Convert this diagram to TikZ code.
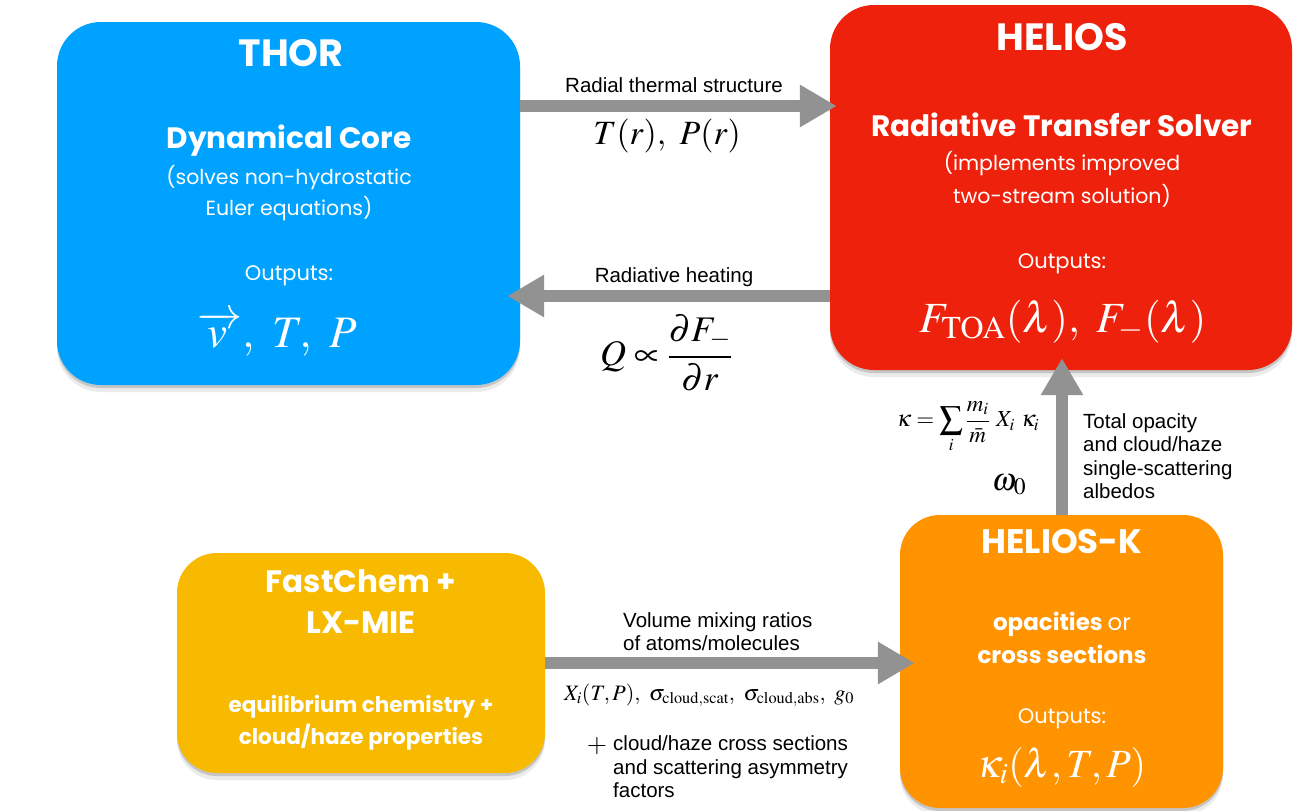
\documentclass[tikz,border=0pt]{standalone}
\usepackage{mathptmx}
\usepackage[no-math]{fontspec}
\setmainfont{Liberation Sans}
\newfontfamily\fut{Poppins}
\usetikzlibrary{arrows.meta,shadows}
\definecolor{thorblue}{RGB}{0,162,255}
\definecolor{heliosred}{RGB}{238,34,12}
\definecolor{korange}{RGB}{255,147,0}
\definecolor{fcyellow}{RGB}{248,186,0}
\definecolor{arrowgray}{RGB}{146,146,146}
\newcommand{\fs}[1]{\fontsize{#1}{#1}\selectfont}
\tikzset{
  box/.style={rounded corners=44pt, inner sep=0pt, draw=none,
    general shadow={shadow yshift=-3pt, opacity=.16, fill=black},
    general shadow={shadow yshift=-7pt, opacity=.08, fill=black}},
  ttl/.style={text=white, inner sep=0pt, anchor=base, font=\fut\bfseries\fs{38}},
  sub/.style={text=white, inner sep=0pt, anchor=base, font=\fut\bfseries\fs{29.5}},
  desc/.style={text=white, inner sep=0pt, anchor=base, font=\fut\fs{20.5}},
  outl/.style={text=white, inner sep=0pt, anchor=base, font=\fut\fs{21}},
  bdesc/.style={text=white, inner sep=0pt, anchor=base, font=\fut\bfseries\fs{21.5}},
  lbl/.style={text=black, inner sep=0pt, anchor=base, font=\fs{20.5}},
  flow/.style={draw=arrowgray, line width=12pt, -{Triangle[length=37pt,width=40pt]}},
}
\begin{document}
\begin{tikzpicture}[x=1pt,y=-1pt]
\useasboundingbox (0,0) rectangle (1294,811);
% boxes
\node[box, fill=thorblue, minimum width=463pt, minimum height=363pt] (thor) at (288.5,203.5) {};
\node[box, fill=heliosred, minimum width=462pt, minimum height=365pt] (helios) at (1061,187.5) {};
\node[box, fill=korange, minimum width=323pt, minimum height=293pt, rounded corners=40pt] (heliosk) at (1061.5,661.5) {};
\node[box, fill=fcyellow, minimum width=368pt, minimum height=220pt, rounded corners=40pt] (fast) at (361,663) {};
% THOR text
\node[ttl] (thorT) at (291,66) {THOR};
\node[sub] (thorS) at (289,148) {Dynamical Core};
\node[desc] (thorD1) at (289,184) {(solves non-hydrostatic};
\node[desc] (thorD2) at (289,215) {Euler equations)};
\node[outl] (thorO) at (289,280) {Outputs:};
\node[text=white, inner sep=0pt, anchor=base, font=\fs{45}] (thorM) at (277,347) {$\overrightarrow{v\,},\ T,\ P$};
% HELIOS text
\node[ttl] (helT) at (1062,50) {HELIOS};
\node[sub] (helS) at (1062,136) {Radiative Transfer Solver};
\node[desc] (helD1) at (1062,170) {(implements improved};
\node[desc] (helD2) at (1062,203) {two-stream solution)};
\node[outl] (helO) at (1062,268) {Outputs:};
\node[text=white, inner sep=0pt, anchor=base, font=\fs{43}] (helM) at (1063,332) {$F_{\mathrm{TOA}}(\lambda),\ F_{-}(\lambda)$};
% HELIOS-K text
\node[ttl, font=\fut\bfseries\fs{34}] (hkT) at (1062,553) {HELIOS-K};
\node[bdesc, font=\fut\bfseries\fs{23}] (hkD1) at (1062,630) {opacities {\mdseries or}};
\node[bdesc, font=\fut\bfseries\fs{23}] (hkD2) at (1062,663) {cross sections};
\node[outl] (hkO) at (1062,723) {Outputs:};
\node[text=white, inner sep=0pt, anchor=base, font=\fs{40}] (hkM) at (1062,777) {$\kappa_i(\lambda,T,P)$};
% FastChem text
\node[ttl, font=\fut\bfseries\fs{31}] (fcT1) at (361,592) {FastChem +};
\node[ttl, font=\fut\bfseries\fs{31}] (fcT2) at (361,633) {LX-MIE};
\node[bdesc] (fcD1) at (361,712) {equilibrium chemistry +};
\node[bdesc] (fcD2) at (361,744) {cloud/haze properties};
% arrows
\coordinate (r1) at (0,106);
\coordinate (r2) at (0,296);
\coordinate (r3) at (1062,0);
\coordinate (r4) at (0,663);
\draw[flow, shorten >=-7pt] (thor.east |- r1) -- (helios.west |- r1);
\draw[flow, shorten >=-13pt] (helios.west |- r2) -- (thor.east |- r2);
\draw[flow, shorten >=-12pt] (heliosk.north -| r3) -- (helios.south -| r3);
\draw[flow, shorten >=-15pt] (fast.east |- r4) -- (heliosk.west |- r4);
% arrow labels
\node[lbl] (a1) at (674,92) {Radial thermal structure};
\node[inner sep=0pt, anchor=base, font=\fs{34}] (a1m) at (667,144) {$T(r),\ P(r)$};
\node[lbl] (a2) at (674,282) {Radiative heating};
\node[inner sep=0pt, font=\fs{36}] (a2m) at (666,353) {$\displaystyle Q \propto \frac{\partial F_{-}}{\partial r}$};
\node[inner sep=0pt, font=\fs{23}] (a3m) at (968,427) {$\displaystyle \kappa = \sum_i \frac{m_i}{\bar{m}}\ X_i\ \kappa_i$};
\node[inner sep=0pt, anchor=base, font=\fs{32}] (a3w) at (1009,490) {$\omega_0$};
\node[lbl, anchor=base west] (a3l1) at (1083,428) {Total opacity};
\node[lbl, anchor=base west] (a3l2) at (1083,451) {and cloud/haze};
\node[lbl, anchor=base west] (a3l3) at (1083,475) {single-scattering};
\node[lbl, anchor=base west] (a3l4) at (1083,498) {albedos};
\node[lbl, anchor=base west] (a4l1) at (623,627) {Volume mixing ratios};
\node[lbl, anchor=base west] (a4l2) at (623,650) {of atoms/molecules};
\node[inner sep=0pt, anchor=base, font=\fs{22}] (a4m) at (709,700) {$X_i(T,P),\ \sigma_{\mathrm{cloud,scat}},\ \sigma_{\mathrm{cloud,abs}},\ g_0$};
\node[inner sep=0pt, anchor=base, font=\fs{26}] (a4p) at (597,752) {$+$};
\node[lbl, anchor=base west] (a4l3) at (613,750) {cloud/haze cross sections};
\node[lbl, anchor=base west] (a4l4) at (613,774) {and scattering asymmetry};
\node[lbl, anchor=base west] (a4l5) at (613,797) {factors};
\end{tikzpicture}
\end{document}
